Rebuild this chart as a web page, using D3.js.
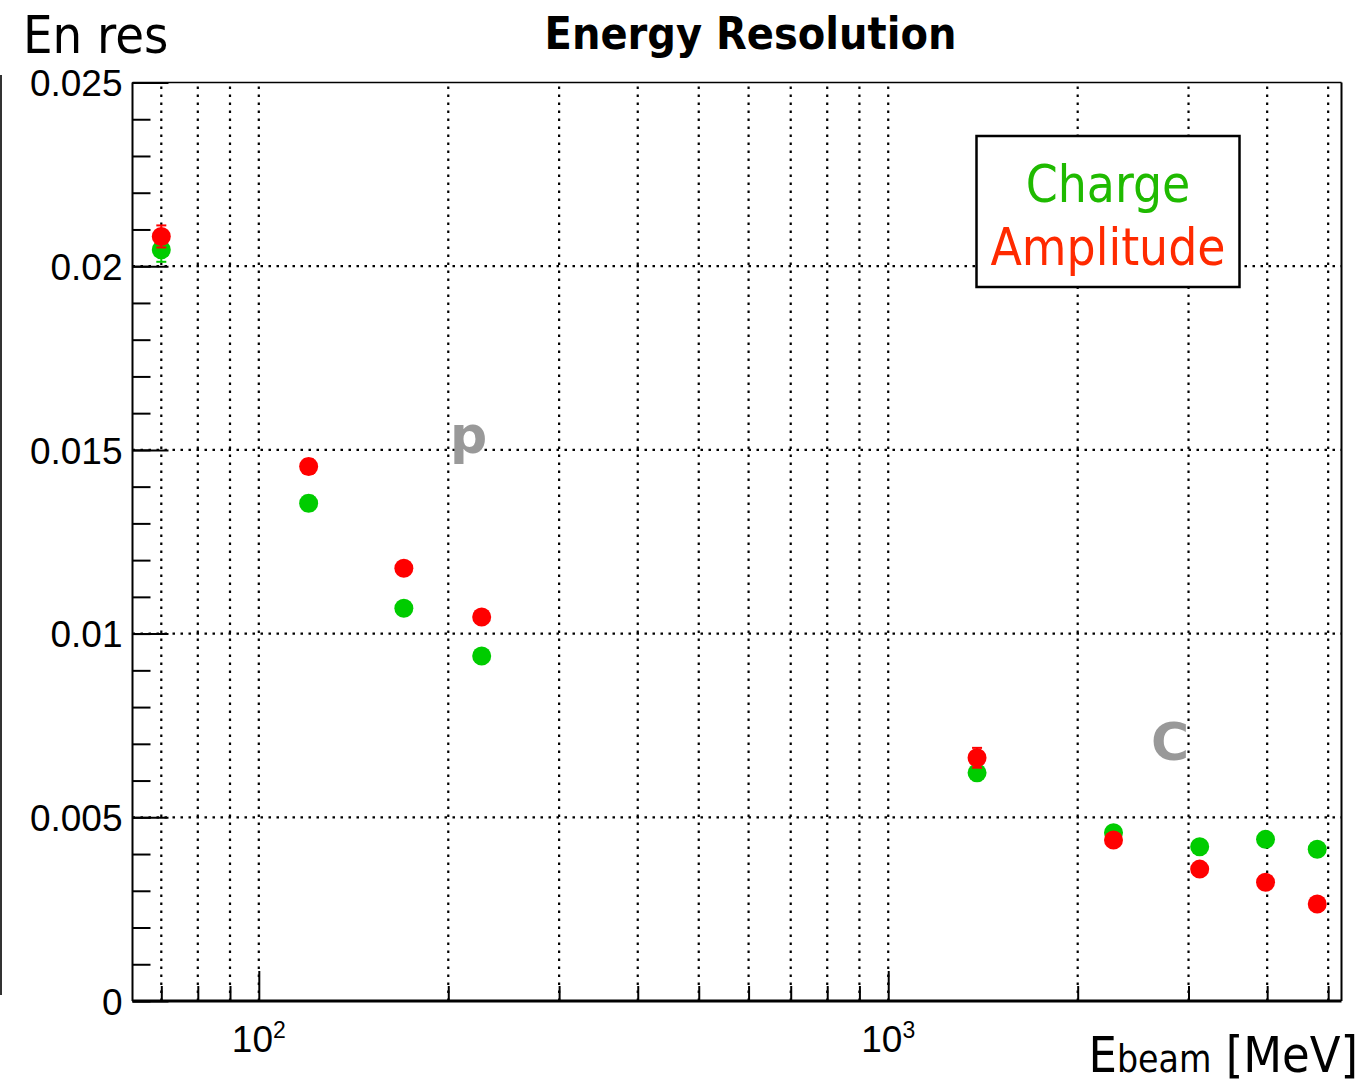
<!DOCTYPE html>
<html>
<head>
<meta charset="utf-8">
<script src="https://cdn.jsdelivr.net/npm/d3@7"></script>
<style>
  body { margin: 0; background: #fff; }
  svg { display: block; }
</style>
</head>
<body>
<script>
// beam energies [MeV] and energy resolution for the two reconstruction methods
var energies = [70, 120, 170, 226, 1384, 2280, 3125, 3976, 4804];
var charge = [0.02045, 0.01355, 0.01069, 0.00939, 0.00621, 0.00458, 0.0042, 0.0044, 0.00413];
var chargeErr = [0.00033, 0.0002, 0.00015, 0.00015, 0.0002, 0.0001, 0.0001, 0.0001, 0.0001];
var amplitude = [0.02081, 0.01455, 0.01178, 0.01045, 0.00662, 0.00438, 0.00359, 0.00323, 0.00264];
var amplitudeErr = [0.0003, 0.0002, 0.00015, 0.00015, 0.00027, 0.0001, 0.0001, 0.0001, 0.0001];

var yMajor = [0, 0.005, 0.01, 0.015, 0.02, 0.025];
var yLabels = ["0", "0.005", "0.01", "0.015", "0.02", "0.025"];
var yMinor = d3.range(0, 26).map(function(i){ return i / 1000; });
var xMajor = [100, 1000];
var xLabels = [["10", "2"], ["10", "3"]];
var xMinor = [70, 80, 90, 200, 300, 400, 500, 600, 700, 800, 900, 2000, 3000, 4000, 5000];

var W = 1362, H = 1084;
// frame edges (window.top is reserved, so prefixed names)
var fLeft = 132.5, fRight = 1341.5, fTop = 82.5, fBottom = 1001;
var cond = "'DejaVu Sans Condensed', 'DejaVu Sans', sans-serif";

var svg = d3.select("body").append("svg").attr("width", W).attr("height", H);

var x = d3.scaleLog().domain([63, 5250]).range([fLeft, fRight]);
var y = d3.scaleLinear().domain([0, 0.025]).range([fBottom, fTop]);

// dotted grid
var grid = svg.append("g").attr("class", "grid");
grid.selectAll("line.v").data(xMinor.concat(xMajor)).enter().append("line")
  .attr("x1", function(d){ return x(d); }).attr("x2", function(d){ return x(d); })
  .attr("y1", fBottom).attr("y2", fTop);
grid.selectAll("line.h").data(yMajor.slice(1, 5)).enter().append("line")
  .attr("y1", function(d){ return y(d); }).attr("y2", function(d){ return y(d); })
  .attr("x1", fLeft).attr("x2", fRight);
grid.selectAll("line").attr("stroke", "#000").attr("stroke-width", 2.2)
  .attr("stroke-dasharray", "2.5,5.5");

// axes (ticks pointing into the frame)
var yAx = svg.append("g").attr("transform", "translate(" + fLeft + ",0)")
  .call(d3.axisLeft(y).tickValues(yMajor).tickSize(-36).tickSizeOuter(0).tickPadding(10)
    .tickFormat(function(d, i){ return yLabels[i]; }));
svg.append("g").attr("transform", "translate(" + fLeft + ",0)")
  .call(d3.axisLeft(y).tickValues(yMinor).tickSize(-18).tickSizeOuter(0).tickFormat(""));
svg.append("g").attr("transform", "translate(0," + fBottom + ")")
  .call(d3.axisBottom(x).tickValues(xMajor).tickSize(-30).tickSizeOuter(0).tickFormat(""));
svg.append("g").attr("transform", "translate(0," + fBottom + ")")
  .call(d3.axisBottom(x).tickValues(xMinor).tickSize(-15).tickSizeOuter(0).tickFormat(""));

svg.selectAll(".tick line").attr("stroke", "#000").attr("stroke-width", 2);
svg.selectAll(".domain").attr("stroke", "none");
yAx.selectAll("text").attr("font-family", "'Liberation Sans', Arial, sans-serif")
  .attr("font-size", 37).attr("fill", "#000").attr("dy", "0.36em");

// x labels 10^n
xMajor.forEach(function(v, i){
  var t = svg.append("text").attr("x", x(v)).attr("y", 1052)
    .attr("text-anchor", "middle").attr("font-family", "'Liberation Sans', Arial, sans-serif")
    .attr("font-size", 37).attr("fill", "#000");
  t.append("tspan").text(xLabels[i][0]);
  t.append("tspan").attr("dy", -14).attr("font-size", 23).text(xLabels[i][1]);
});

// frame
svg.append("line").attr("x1", fLeft).attr("x2", fRight).attr("y1", fBottom).attr("y2", fBottom)
  .attr("stroke", "#000").attr("stroke-width", 3);
svg.append("line").attr("x1", fLeft).attr("x2", fLeft).attr("y1", fTop).attr("y2", fBottom)
  .attr("stroke", "#000").attr("stroke-width", 2);
svg.append("line").attr("x1", fLeft).attr("x2", fRight).attr("y1", fTop).attr("y2", fTop)
  .attr("stroke", "#000").attr("stroke-width", 1.5);
svg.append("line").attr("x1", fRight).attr("x2", fRight).attr("y1", fTop).attr("y2", fBottom)
  .attr("stroke", "#000").attr("stroke-width", 2);

// stray line at the left edge
svg.append("line").attr("x1", 1).attr("x2", 1).attr("y1", 75).attr("y2", 995)
  .attr("stroke", "#333").attr("stroke-width", 2);

// data: charge (green) first, amplitude (red) on top
function series(vals, errs, color){
  var g = svg.append("g");
  var pts = energies.map(function(e, i){ return {e: e, v: vals[i], err: errs[i]}; });
  var eb = g.selectAll("g.err").data(pts).enter().append("g")
    .attr("stroke", color).attr("stroke-width", 2);
  eb.append("line").attr("x1", function(d){ return x(d.e); }).attr("x2", function(d){ return x(d.e); })
    .attr("y1", function(d){ return y(d.v - d.err); }).attr("y2", function(d){ return y(d.v + d.err); });
  eb.append("line").attr("x1", function(d){ return x(d.e) - 5; }).attr("x2", function(d){ return x(d.e) + 5; })
    .attr("y1", function(d){ return y(d.v - d.err); }).attr("y2", function(d){ return y(d.v - d.err); });
  eb.append("line").attr("x1", function(d){ return x(d.e) - 5; }).attr("x2", function(d){ return x(d.e) + 5; })
    .attr("y1", function(d){ return y(d.v + d.err); }).attr("y2", function(d){ return y(d.v + d.err); });
  g.selectAll("circle").data(pts).enter().append("circle")
    .attr("cx", function(d){ return x(d.e); })
    .attr("cy", function(d){ return y(d.v); })
    .attr("r", 9.5)
    .attr("fill", color);
}
series(charge, chargeErr, "#00cc00");
series(amplitude, amplitudeErr, "#ff0000");

// titles
svg.append("text").attr("x", 750.5).attr("y", 49).attr("text-anchor", "middle")
  .attr("font-family", cond).attr("font-weight", "bold").attr("font-size", 44.5)
  .attr("fill", "#000").text("Energy Resolution");
svg.append("text").attr("x", 23).attr("y", 53)
  .attr("font-family", cond).attr("font-size", 52).attr("fill", "#000").text("En res");
var xt = svg.append("text").attr("x", 1358).attr("y", 1072).attr("text-anchor", "end")
  .attr("font-family", cond).attr("font-size", 50).attr("fill", "#000");
xt.append("tspan").text("E");
xt.append("tspan").attr("font-size", 37).text("beam");
xt.append("tspan").text(" [MeV]");

// particle annotations
svg.append("text").attr("x", 450).attr("y", 453).attr("font-family", "'DejaVu Sans', sans-serif")
  .attr("font-weight", "bold").attr("font-size", 52).attr("fill", "#999").text("p");
svg.append("text").attr("x", 1151).attr("y", 760).attr("font-family", "'DejaVu Sans', sans-serif")
  .attr("font-weight", "bold").attr("font-size", 52).attr("fill", "#999").text("C");

// legend
svg.append("rect").attr("x", 976.5).attr("y", 136).attr("width", 263).attr("height", 151)
  .attr("fill", "#fff").attr("stroke", "#000").attr("stroke-width", 2.5);
svg.append("text").attr("x", 1108).attr("y", 202).attr("text-anchor", "middle")
  .attr("font-family", cond).attr("font-size", 51).attr("fill", "#1fba00").text("Charge");
svg.append("text").attr("x", 1108).attr("y", 265).attr("text-anchor", "middle")
  .attr("font-family", cond).attr("font-size", 51).attr("fill", "#ff2a00").text("Amplitude");
</script>
</body>
</html>
